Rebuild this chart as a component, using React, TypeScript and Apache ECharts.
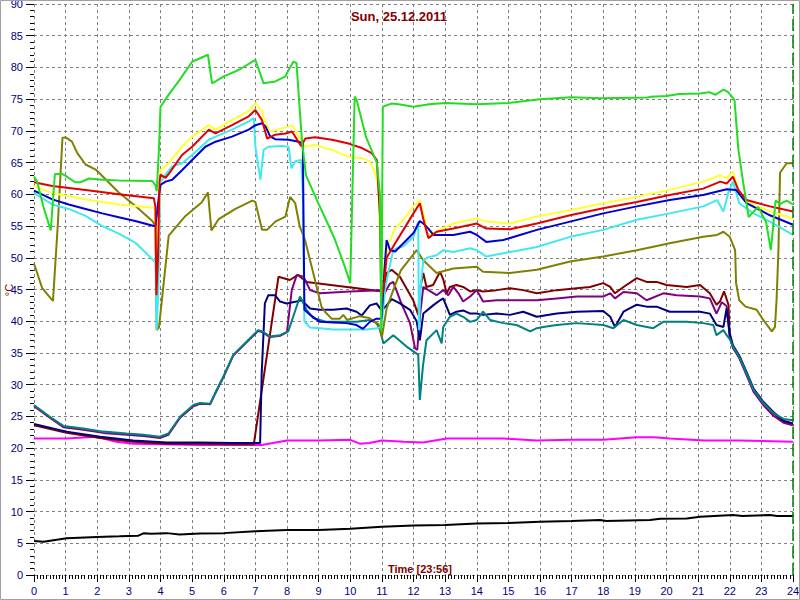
import React, { useEffect, useRef } from "react";
import * as echarts from "echarts";

type P = [number, number];

const titleText = "Sun, 25.12.2011";
const timeText = "Time [23:56]";
const yName = "°C";
const xMin = 0, xMax = 24, xStep = 1;
const yMin = 0, yMax = 90, yStep = 5;
const nowMarker = 24;

const green: P[] = [[0,62.8],[0.1,62],[0.3,58],[0.53,54.3],[0.66,63.2],[0.9,63.2],[1.0,62.9],[1.3,61.9],[1.47,61.9],[1.74,62.5],[2.16,62.3],[2.68,62.2],[3.74,62.1],[3.84,61.4],[3.88,60.5],[3.95,67],[4.0,73.8],[4.3,76],[4.6,78],[5.0,80.9],[5.5,82],[5.63,77.5],[5.74,77.8],[6.0,78.6],[6.47,79.6],[7.0,81.2],[7.26,77.5],[7.63,77.8],[7.95,78.6],[8.05,79.6],[8.2,80.9],[8.3,80.7],[8.47,68.6],[8.6,63],[9.0,58.5],[9.37,54.5],[9.52,52.8],[9.8,49],[10.0,46],[10.14,75.4],[10.2,74.9],[10.5,69],[10.84,65],[10.94,60],[10.98,38.5],[11.03,73.8],[11.3,74.3],[11.53,74.2],[12,73.8],[12.5,74.2],[13,74.4],[14,74.2],[15,74.4],[16,75],[17,75.3],[17.9,75.15],[19.4,75.25],[19.5,75.4],[20,75.5],[20.4,75.8],[21.05,75.9],[21.35,76.1],[21.55,75.7],[21.8,76.5],[21.95,76.1],[22.1,75.2],[22.15,74.9],[22.27,67.2],[22.43,61.7],[22.6,56.4],[22.7,57],[22.9,58],[23.15,55.6],[23.3,51.2],[23.45,59],[23.6,58.5],[23.8,59],[24,58.4]];

const olive: P[] = [[0,49.1],[0.26,45.2],[0.53,43.6],[0.6,43.2],[0.75,55],[0.9,68.9],[1.0,69],[1.2,68.3],[1.37,66.5],[1.63,64.7],[1.95,63.9],[2.16,62.9],[2.68,60.3],[3.2,58.2],[3.74,55.8],[3.84,55],[3.88,38.6],[3.95,39],[4.05,43.6],[4.26,53.5],[4.79,56.6],[5.3,58.7],[5.5,60.3],[5.61,54.3],[5.84,56.1],[6.37,57.7],[6.9,59],[7.0,58.8],[7.21,54.4],[7.37,54.4],[7.63,55.7],[7.95,56.5],[8.1,59.6],[8.26,58.6],[8.4,55],[8.57,52.8],[8.83,47.6],[9.09,42.3],[9.2,41.5],[9.41,40.4],[9.67,40.4],[9.78,41],[9.9,40.2],[10.3,40.8],[10.6,40.5],[10.9,39.5],[11.0,37.5],[11.15,42],[11.36,44.9],[11.6,48],[12.1,51.2],[12.31,49.6],[12.73,47.6],[13.26,48.3],[14.0,48.6],[14.2,47.8],[15.05,47.6],[15.9,48.1],[16.95,49.4],[18.0,50.2],[19.06,51.2],[20.1,52.3],[21.16,53.3],[21.6,53.6],[21.8,54.1],[22.0,53.3],[22.17,51.2],[22.2,46],[22.3,43.3],[22.5,42.3],[22.85,41.8],[23.06,40.2],[23.33,38.4],[23.43,39.1],[23.48,43.3],[23.54,51.2],[23.59,63.4],[23.8,64.9],[24,64.9]];

const yellow: P[] = [[0,61.3],[0.58,60.2],[1.63,59.2],[2.68,58.4],[3.79,57.9],[3.84,57.5],[3.87,50],[3.92,52],[4.0,63.8],[4.26,64.9],[4.68,67.5],[5.0,69.1],[5.53,70.9],[5.74,70.2],[6.26,71.7],[6.79,73.1],[7.0,74.4],[7.21,73.1],[7.32,71.2],[7.47,69.9],[7.84,70.4],[8.16,70.8],[8.26,70.2],[8.42,68.6],[8.58,67.5],[8.89,67.8],[9.42,67],[9.95,65.9],[10.37,65.7],[10.62,65.2],[10.79,63.3],[10.89,61.2],[10.95,52],[11.03,47],[11.2,52],[11.4,54.5],[11.68,56],[12.0,58.1],[12.2,59.1],[12.31,57],[12.47,53.6],[12.63,53.9],[12.9,54.6],[13.26,55.4],[14.0,56.2],[14.3,55.7],[15.05,55.4],[15.9,56.5],[16.95,57.5],[18.0,58.6],[19.06,59.6],[20.1,60.7],[21.16,62],[21.7,63],[21.9,62.5],[22.1,63.6],[22.3,60.2],[22.75,58.3],[23.27,57.3],[24,56.2]];

const red: P[] = [[0,61.9],[0.58,61.3],[1.63,60.7],[2.68,60],[3.79,59.4],[3.84,58],[3.87,44.1],[3.92,50],[3.97,62],[4.0,63.1],[4.16,62.6],[4.3,63.5],[4.68,66.2],[5.0,67.5],[5.53,70.2],[5.74,69.6],[6.26,70.9],[6.79,72.3],[7.0,73.3],[7.21,71.7],[7.37,68.8],[7.63,69.4],[7.95,69.6],[8.16,69.9],[8.32,68.6],[8.45,67.6],[8.58,68.8],[8.89,69],[9.42,68.6],[9.95,68],[10.37,67.3],[10.68,66.5],[10.84,65.4],[10.94,56.5],[10.98,43.5],[11.05,45],[11.15,50],[11.42,52.3],[11.68,54.4],[12.0,57],[12.2,58.6],[12.31,56.1],[12.47,53.1],[12.73,54.1],[13.26,54.6],[14.0,55.4],[14.3,54.6],[15.05,54.5],[15.9,55.4],[16.95,56.7],[18.0,57.8],[19.06,58.8],[20.1,59.9],[21.16,60.9],[21.7,62],[21.9,61.7],[22.1,62.8],[22.27,60.7],[22.53,59.1],[23.27,58.1],[24,57.3]];

const blue: P[] = [[0,60.6],[0.58,59.2],[1.1,58.4],[1.63,57.7],[2.16,57],[2.68,56.4],[3.2,55.8],[3.79,55],[3.84,55],[3.95,59.7],[4.0,61.5],[4.16,62],[4.37,62.3],[4.68,63.8],[5.0,65.4],[5.42,67.5],[5.74,68.3],[6.26,69.1],[6.79,70.2],[7.0,70.9],[7.21,71.2],[7.32,70.7],[7.47,69.1],[7.63,68.7],[8.05,68.6],[8.37,68.3],[8.5,68],[8.55,41.8],[8.73,41],[9.04,39.9],[9.46,39.8],[9.88,39.7],[10.2,39.4],[10.4,38.8],[10.62,39.9],[10.83,40.4],[10.99,40.4],[11.08,48],[11.15,52.8],[11.26,51.2],[11.42,51],[11.68,52.3],[12.0,53.9],[12.2,55.8],[12.31,55.4],[12.47,54.6],[12.63,53.6],[13.26,53.6],[13.79,54.1],[14.0,53.6],[14.3,52.5],[14.84,52.8],[15.9,54.4],[16.95,55.7],[18.0,57],[19.06,58.1],[20.1,59.1],[21.16,59.9],[21.9,60.8],[22.2,60.7],[22.53,58.6],[23.27,56.7],[24,55.2]];

const cyan: P[] = [[0,60.2],[0.58,58.4],[1.1,57.7],[1.63,56.6],[2.16,55],[2.68,53.8],[3.2,52.4],[3.84,49.3],[3.88,38.6],[3.93,45],[4.0,62],[4.16,63.1],[4.37,64.4],[4.68,64.9],[5.0,66.2],[5.53,68.6],[5.74,69.1],[6.26,70.2],[6.79,71.5],[6.95,72],[7.0,67.5],[7.16,62.3],[7.26,67],[7.42,67.5],[7.84,67.6],[8.05,67.5],[8.14,64.1],[8.26,65.2],[8.45,65.4],[8.5,60],[8.55,40],[8.73,39],[9.04,38.9],[9.46,38.7],[9.99,38.7],[10.52,38.7],[10.83,38.9],[10.99,39.1],[11.1,45],[11.2,47.6],[11.36,51.2],[11.47,51.5],[11.68,51.8],[12.0,53.3],[12.15,55.7],[12.17,38.6],[12.22,45],[12.31,49.6],[12.47,50.1],[12.73,50.4],[12.94,51.2],[13.26,50.9],[13.79,51.5],[14.0,51.2],[14.3,50.2],[14.84,50.7],[15.9,51.7],[16.95,53.3],[18.0,54.4],[19.06,56],[20.1,57],[21.16,58.1],[21.6,59.1],[21.8,57.3],[21.95,60.2],[22.1,62],[22.3,58.6],[22.75,57],[23.27,55.7],[24,53.6]];

const maroon: P[] = [[0,23.6],[1.03,22.4],[2.09,21.6],[3.14,21.0],[4.2,20.7],[5.25,20.7],[6.3,20.6],[6.95,20.6],[7.73,47],[8.09,46.5],[8.35,47.3],[8.62,46.2],[11.04,44.7],[11.15,47.6],[11.31,48.1],[11.57,47],[11.99,43.3],[12.15,41],[12.2,44.9],[12.31,47.6],[12.41,45.4],[12.62,45.7],[12.84,47.8],[12.94,46.6],[13.05,44.4],[13.15,45.4],[13.36,45.7],[13.57,45.4],[13.79,44.7],[14.0,44.9],[14.2,44.7],[14.63,44.9],[15.05,45.2],[15.47,44.9],[15.9,44.4],[16.53,44.9],[17.16,45.2],[17.58,45.4],[18.0,46],[18.22,45.4],[18.37,44.4],[18.64,45.4],[19.06,46.8],[19.37,46.2],[19.69,46.2],[20.0,45.7],[20.64,45.4],[21.06,45.7],[21.37,44.4],[21.58,42.6],[21.69,43.1],[21.82,44.7],[21.96,42.6],[22.0,37.6],[22.1,36],[22.3,34.4],[22.53,31.8],[22.75,29.2],[23.06,27.1],[23.38,25.5],[23.7,24.2],[24,23.8]];

const purple: P[] = [[0,26.6],[0.5,24.8],[0.93,23.3],[1.56,22.9],[2.19,22.4],[2.93,22.1],[3.46,21.9],[3.98,21.6],[4.25,22.1],[4.62,24.8],[5.04,26.6],[5.25,27],[5.57,26.9],[5.72,28.5],[5.99,31.2],[6.3,34.6],[6.73,36.7],[7.09,38.5],[7.25,38.2],[7.46,37.5],[7.78,37.7],[8.0,38.3],[8.15,44.9],[8.31,47.3],[8.52,47],[8.73,44.9],[9.04,44.4],[9.99,44.7],[10.94,44.9],[11.05,44.1],[11.25,45.9],[11.36,46.2],[11.6,43],[11.89,39.7],[12.05,35.7],[12.12,35.5],[12.2,40.7],[12.31,45.4],[12.47,44.9],[12.73,44.1],[12.94,44.9],[13.1,44.1],[13.26,45.4],[13.42,44.4],[13.57,43.1],[13.79,43.9],[14.0,44.9],[14.2,43.1],[14.63,43.3],[15.47,43.3],[15.9,43.3],[16.53,43.6],[17.16,43.9],[18.0,43.9],[18.22,44.4],[18.37,43.6],[18.64,44.6],[19.06,44.4],[19.37,43.3],[19.9,44.4],[20.32,44.1],[21.06,43.9],[21.37,43.6],[21.58,41.2],[21.75,43],[21.9,42.4],[22.0,37.5],[22.1,35.8],[22.3,34.2],[22.53,31.5],[22.75,28.9],[23.06,26.8],[23.38,25.1],[23.7,24],[24,23.6]];

const navy: P[] = [[0,23.8],[1.03,22.6],[2.09,21.8],[3.14,21.2],[4.2,20.9],[5.25,20.9],[6.3,20.8],[7.15,20.8],[7.2,31.8],[7.3,42.8],[7.41,44.1],[7.62,44.1],[7.78,43.1],[7.99,42.8],[8.3,43.1],[8.46,43.3],[8.73,42],[9.04,41.8],[9.46,41.8],[9.88,42],[10.2,41.5],[10.36,40.9],[10.62,42.5],[10.83,42.8],[10.99,41.7],[11.15,42.5],[11.31,43.5],[11.57,42.8],[11.89,41.8],[12.1,40],[12.2,37],[12.31,41.2],[12.62,42.5],[12.84,43.3],[12.94,43.6],[13.15,41],[13.36,41.5],[13.57,41.7],[13.79,41.2],[14.0,41.2],[14.2,41],[14.63,41.2],[15.05,41],[15.47,41.5],[15.9,40.7],[16.53,41.2],[17.16,41.5],[18.0,41.6],[18.22,40.7],[18.37,39.1],[18.64,41.5],[19.06,42.6],[19.37,42.3],[19.69,42.3],[20.1,41.5],[21.06,41.5],[21.37,41.2],[21.58,39.4],[21.8,39.1],[21.9,42],[22.0,38.1],[22.1,36.2],[22.3,34.6],[22.53,32],[22.75,29.4],[23.06,27.3],[23.38,25.7],[23.7,24.3],[24,23.9]];

const teal: P[] = [[0,26.8],[0.5,24.95],[0.93,23.5],[1.56,23.1],[2.19,22.6],[2.93,22.3],[3.46,22.1],[3.98,21.8],[4.25,22.3],[4.62,24.95],[5.04,26.8],[5.25,27.1],[5.57,27],[5.72,28.6],[5.99,31.3],[6.3,34.7],[6.73,36.8],[7.09,38.6],[7.25,38.3],[7.46,37.6],[7.78,37.8],[8.04,38.4],[8.41,43.9],[8.62,41.8],[8.83,40.5],[9.25,39.9],[9.67,39.9],[10.2,39.9],[10.62,40.2],[10.83,39.7],[10.94,38.6],[11.05,36.5],[11.36,37.8],[11.78,36],[12.1,34.9],[12.15,34.7],[12.2,27.6],[12.3,33],[12.41,37],[12.73,38.6],[12.89,36.5],[12.94,39.1],[13.15,40.7],[13.36,41.2],[13.57,40.7],[13.79,39.9],[14.0,40.2],[14.2,41.5],[14.42,40.2],[14.84,39.7],[15.26,39.4],[15.69,38.4],[15.9,38.9],[16.1,39.1],[16.53,39.4],[17.16,39.7],[18.0,39.4],[18.32,38.9],[18.64,40.2],[19.06,39.4],[19.58,38.9],[19.9,39.9],[20.64,39.9],[21.16,39.7],[21.48,39.4],[21.58,37.8],[21.8,38.6],[21.9,37.8],[22.0,37.2],[22.1,36],[22.3,34.4],[22.53,31.8],[22.75,29.2],[23.06,27.1],[23.38,25.5],[23.7,24.6],[24,24.4]];

const magenta: P[] = [[0,21.5],[1.03,21.5],[1.98,21.8],[2.6,21],[3.14,20.7],[3.98,20.6],[5.25,20.5],[6.5,20.5],[7.2,20.5],[8,21.2],[9,21.2],[10,21.3],[10.3,20.7],[10.6,20.8],[11.0,21.2],[11.7,21.0],[12.3,20.9],[13.05,21.5],[14.84,21.5],[15.9,21.2],[17,21.3],[18.0,21.3],[19.06,21.7],[19.6,21.7],[20.1,21.5],[21.2,21.2],[22.3,21.2],[24,21.0]];

const black: P[] = [[0,5.36],[0.3,5.25],[1.03,5.8],[2.0,6.0],[2.7,6.1],[3.3,6.2],[3.46,6.57],[3.7,6.5],[4.2,6.6],[4.6,6.4],[5.25,6.55],[6,6.6],[7,6.9],[8,7.1],[9,7.1],[10,7.3],[11,7.6],[12,7.8],[13,7.9],[14,8.1],[15,8.2],[16,8.4],[17,8.5],[17.9,8.67],[18.1,8.5],[19.48,8.67],[19.8,8.85],[20.64,8.9],[21.06,9.19],[22.1,9.46],[22.4,9.3],[23.27,9.46],[23.5,9.3],[24,9.3]];

const seriesList: { name: string; data: P[]; color: string }[] = [
  { name: "black", data: black, color: "#000000" },
  { name: "magenta", data: magenta, color: "#ff00ff" },
  { name: "maroon", data: maroon, color: "#800000" },
  { name: "purple", data: purple, color: "#800080" },
  { name: "navy", data: navy, color: "#000080" },
  { name: "teal", data: teal, color: "#008080" },
  { name: "olive", data: olive, color: "#808000" },
  { name: "cyan", data: cyan, color: "#40e8f0" },
  { name: "yellow", data: yellow, color: "#ffff33" },
  { name: "blue", data: blue, color: "#0000d0" },
  { name: "red", data: red, color: "#e00000" },
  { name: "green", data: green, color: "#22dd22" },
];

const FONT = "'Liberation Sans', Arial, sans-serif";

export default function App() {
  const ref = useRef<HTMLDivElement>(null);
  useEffect(() => {
    if (!ref.current) return;
    const chart = echarts.init(ref.current, null, { renderer: "svg" });
    const dashed = { color: "#808080", type: [3, 3] as number[], width: 1 };
    const series: any[] = seriesList.map((s) => ({
      name: s.name,
      type: "line",
      data: s.data,
      showSymbol: false,
      symbol: "none",
      lineStyle: { color: s.color, width: 2 },
      itemStyle: { color: s.color },
      z: 3,
    }));
    series[series.length - 1].markLine = {
      silent: true,
      symbol: "none",
      label: { show: false },
      lineStyle: { color: "#008000", type: [12, 5], width: 1.5 },
      data: [{ xAxis: nowMarker }],
    };
    chart.setOption({
      animation: false,
      backgroundColor: "#ffffff",
      grid: {
        left: 34,
        right: 7,
        top: 4,
        bottom: 25,
        containLabel: false,
        outerBoundsMode: "none",
      },
      xAxis: {
        type: "value",
        min: xMin,
        max: xMax,
        interval: xStep,
        axisLine: { show: false },
        axisTick: { show: true, length: 7, lineStyle: { color: "#000000" } },
        minorTick: { show: true, splitNumber: 10, length: 4, lineStyle: { color: "#000000" } },
        splitLine: { show: true, lineStyle: dashed },
        axisLabel: { color: "#000080", fontSize: 11, fontFamily: FONT, margin: 10 },
      },
      yAxis: {
        type: "value",
        min: yMin,
        max: yMax,
        interval: yStep,
        axisLine: { show: false },
        axisTick: { show: true, length: 8, lineStyle: { color: "#000000" } },
        minorTick: { show: true, splitNumber: 5, length: 4, lineStyle: { color: "#000000" } },
        splitLine: { show: true, lineStyle: dashed },
        axisLabel: { color: "#000080", fontSize: 11, fontFamily: FONT, margin: 11 },
      },
      graphic: [
        {
          type: "text",
          x: 399,
          y: 16,
          z: 10,
          style: {
            text: titleText,
            fill: "#800000",
            font: `bold 13px ${FONT}`,
            textAlign: "center",
            textVerticalAlign: "middle",
          },
        },
        {
          type: "text",
          x: 420,
          y: 569,
          z: 10,
          style: {
            text: timeText,
            fill: "#800000",
            font: `bold 11px ${FONT}`,
            textAlign: "center",
            textVerticalAlign: "middle",
          },
        },
        {
          type: "text",
          x: 9,
          y: 290,
          rotation: Math.PI / 2,
          z: 10,
          style: {
            text: yName,
            fill: "#800000",
            font: `11px ${FONT}`,
            textAlign: "center",
            textVerticalAlign: "middle",
          },
        },
        {
          type: "rect",
          shape: { x: 0.5, y: 0.5, width: 799, height: 599 },
          style: { fill: "none", stroke: "#a0a0a0", lineWidth: 1 },
          silent: true,
          z: 10,
        },
      ],
      series,
    });
    return () => chart.dispose();
  }, []);
  return (
    <div
      ref={ref}
      style={{ position: "fixed", left: 0, top: 0, width: 800, height: 600 }}
    />
  );
}
